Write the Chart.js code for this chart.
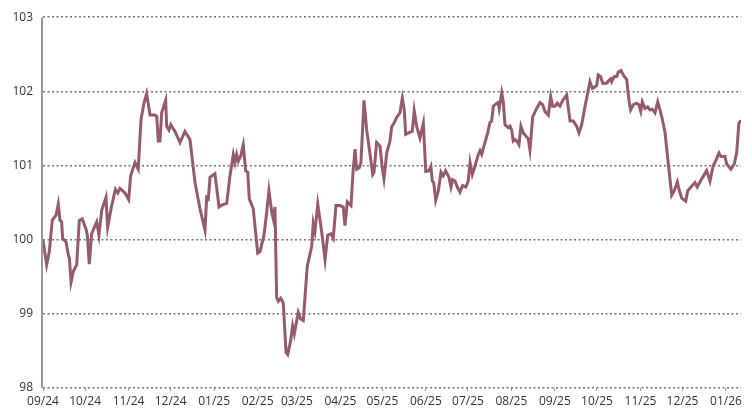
<!DOCTYPE html>
<html>
<head>
<meta charset="utf-8">
<script src="https://cdn.jsdelivr.net/npm/chart.js@4/dist/chart.umd.min.js"></script>
<style>
  html, body { margin: 0; padding: 0; background: #fff; }
  #wrap { width: 752px; height: 412px; position: relative; }
</style>
</head>
<body>
<div id="wrap"><canvas id="c" width="752" height="412"></canvas></div>
<script>
// Month tick labels (MM/YY)
const tickLabels = ["09/24","10/24","11/24","12/24","01/25","02/25","03/25","04/25","05/25","06/25","07/25","08/25","09/25","10/25","11/25","12/25","01/26"];
const yTicks = [98, 99, 100, 101, 102, 103];

// Days since 2024-09-01
const days = [
  0,2.6,4.5,6.6,9.3,10.9,12.1,13.3,14.0,16.4,
  18.0,18.8,20.0,21.6,24.0,25.9,28.0,30.7,31.6,33.0,
  34.7,37.1,38.3,39.9,41.9,44.9,46.1,49.0,51.6,53.3,
  54.9,58.5,61.1,62.5,65.6,67.9,69.9,72.0,73.9,76.3,
  79.9,81.1,82.2,83.4,84.6,87.5,88.2,89.8,91.1,94.1,
  97.7,101.2,104.8,108.4,111.9,115.5,116.7,117.9,119.1,122.6,
  125.5,127.8,131.0,133.3,135.7,136.9,138.1,139.3,141.0,142.8,
  144.5,146.0,147.1,149.9,153.1,154.7,157.6,159.5,161.1,163.1,
  164.2,165.4,166.6,167.8,169.5,171.3,173.3,174.5,176.6,178.0,
  179.2,182.0,183.7,185.6,188.4,191.6,192.7,193.9,195.9,198.7,
  201.1,203.0,205.3,207.0,208.9,211.8,214.1,215.3,217.0,219.6,
  221.2,222.5,223.7,225.5,226.7,228.9,230.8,233.2,235.1,236.0,
  237.9,240.3,241.9,243.1,245.1,247.4,248.6,250.5,252.2,254.5,
  256.2,257.6,258.6,261.7,263.3,264.7,266.4,268.8,271.2,272.9,
  275.2,276.6,277.6,278.6,280.0,281.9,283.8,285.4,287.1,289.5,
  290.9,292.1,293.8,295.4,297.3,299.2,301.5,303.2,304.5,306.1,
  308.0,310.4,311.6,312.8,315.1,317.1,318.7,319.9,321.1,323.5,
  324.6,325.3,327.1,328.2,329.4,331.8,333.0,334.2,335.3,336.5,
  337.8,339.4,340.8,342.5,344.2,346.0,347.2,349.2,352.0,354.4,
  356.3,357.9,360.3,362.0,363.4,365.1,366.7,368.6,370.6,373.4,
  375.8,378.1,380.5,382.2,384.1,386.5,390.0,391.7,393.6,394.8,
  395.9,397.6,399.1,401.9,403.6,404.8,405.5,407.4,409.1,410.2,
  412.1,413.8,416.2,417.8,419.0,420.9,423.3,424.9,426.2,427.3,
  429.2,431.2,432.8,434.4,436.4,438.3,439.9,441.3,443.5,445.9,
  448.3,450.1,452.3,453.5,455.4,458.3,459.7,462.5,464.9,466.5,
  469.7,473.2,475.6,477.9,479.1,482.0,483.4,486.3,487.5,490.5,
  492.9,494.6,496.2,497.7
];

const values = [
  100.00,99.66,99.84,100.26,100.33,100.48,100.26,100.24,100.02,99.97,
  99.80,99.75,99.43,99.57,99.66,100.26,100.28,100.14,100.06,99.67,
  100.08,100.19,100.24,100.06,100.40,100.57,100.17,100.46,100.68,100.63,
  100.69,100.63,100.54,100.86,101.04,100.95,101.62,101.84,101.97,101.68,
  101.68,101.66,101.33,101.33,101.71,101.88,101.53,101.48,101.55,101.46,
  101.31,101.46,101.35,100.77,100.42,100.13,100.57,100.55,100.84,100.89,
  100.44,100.47,100.49,100.86,101.15,101.04,101.15,101.06,101.13,101.28,
  100.93,100.91,100.55,100.42,99.82,99.84,100.06,100.37,100.66,100.37,
  100.28,100.44,99.22,99.17,99.21,99.15,98.48,98.45,98.64,98.84,
  98.73,99.02,98.93,98.91,99.64,99.91,100.22,100.11,100.48,100.11,
  99.73,100.06,100.08,100.02,100.46,100.46,100.44,100.19,100.51,100.46,
  100.95,101.22,100.95,100.97,101.04,101.88,101.48,101.15,100.88,100.91,
  101.31,101.26,100.97,100.82,101.17,101.33,101.52,101.58,101.65,101.71,
  101.91,101.75,101.42,101.45,101.46,101.74,101.53,101.37,101.57,100.92,
  100.93,100.99,100.79,100.77,100.53,100.66,100.91,100.86,100.93,100.84,
  100.71,100.81,100.79,100.71,100.64,100.73,100.71,100.79,101.04,100.88,
  100.99,101.15,101.20,101.15,101.31,101.44,101.58,101.60,101.80,101.84,
  101.85,101.77,101.98,101.86,101.55,101.51,101.53,101.48,101.33,101.35,
  101.33,101.28,101.53,101.44,101.40,101.36,101.21,101.66,101.77,101.85,
  101.82,101.73,101.68,101.93,101.80,101.80,101.84,101.80,101.88,101.95,
  101.60,101.60,101.53,101.44,101.55,101.80,102.13,102.04,102.06,102.08,
  102.22,102.20,102.11,102.11,102.15,102.17,102.13,102.20,102.20,102.26,
  102.28,102.22,102.16,101.88,101.75,101.82,101.84,101.82,101.73,101.86,
  101.77,101.79,101.75,101.76,101.71,101.86,101.75,101.65,101.45,101.02,
  100.60,100.66,100.78,100.68,100.56,100.52,100.66,100.72,100.77,100.71,
  100.82,100.93,100.79,101.00,101.04,101.17,101.12,101.12,101.02,100.95,
  101.02,101.17,101.57,101.61
];

const base = Date.UTC(2024, 8, 1);
const tickDays = tickLabels.map(l => {
  const [m, y] = l.split('/').map(Number);
  return Math.round((Date.UTC(2000 + y, m - 1, 1) - base) / 86400000);
});
const points = days.map((d, i) => ({ x: d, y: values[i] }));

const textColor = '#333333';
const font = { family: "'Open Sans', 'Noto Sans', sans-serif", size: 12 };

// Solid left axis line drawn over the chart area edge
const axisLine = {
  id: 'axisLine',
  afterDatasetsDraw(chart) {
    const { ctx, chartArea } = chart;
    ctx.save();
    ctx.setLineDash([]);
    ctx.strokeStyle = '#999999';
    ctx.lineWidth = 2;
    ctx.beginPath();
    ctx.moveTo(chartArea.left - 1, chartArea.top);
    ctx.lineTo(chartArea.left - 1, chartArea.bottom);
    ctx.stroke();
    ctx.restore();
  }
};

new Chart(document.getElementById('c'), {
  type: 'line',
  data: {
    datasets: [{
      data: points,
      borderColor: '#955a70',
      borderWidth: 3,
      pointRadius: 0,
      tension: 0,
      fill: false
    }]
  },
  options: {
    responsive: false,
    animation: false,
    events: [],
    layout: { padding: { top: 13, right: 11, left: 0, bottom: 0 } },
    plugins: { legend: { display: false }, tooltip: { enabled: false } },
    scales: {
      x: {
        type: 'linear',
        min: 0,
        max: days[days.length - 1],
        afterBuildTicks: s => { s.ticks = tickDays.map(v => ({ value: v })); },
        afterFit: s => { s.height = 24; },
        ticks: {
          autoSkip: false,
          maxRotation: 0,
          padding: 3,
          color: textColor,
          font: font,
          callback: (v) => { const i = tickDays.indexOf(v); return i >= 0 ? tickLabels[i] : ''; }
        },
        grid: { drawOnChartArea: false, drawTicks: true, tickLength: 3, color: '#999999', lineWidth: 1 },
        border: { display: false }
      },
      y: {
        min: 98,
        max: 103,
        afterBuildTicks: s => { s.ticks = yTicks.map(v => ({ value: v })); },
        afterFit: s => { s.width = 43; },
        ticks: { padding: 10, color: textColor, font: font },
        grid: { drawTicks: false, color: '#777777', lineWidth: 1.5 },
        border: { display: false, dash: [2, 2.5] }
      }
    }
  },
  plugins: [axisLine]
});
</script>
</body>
</html>
